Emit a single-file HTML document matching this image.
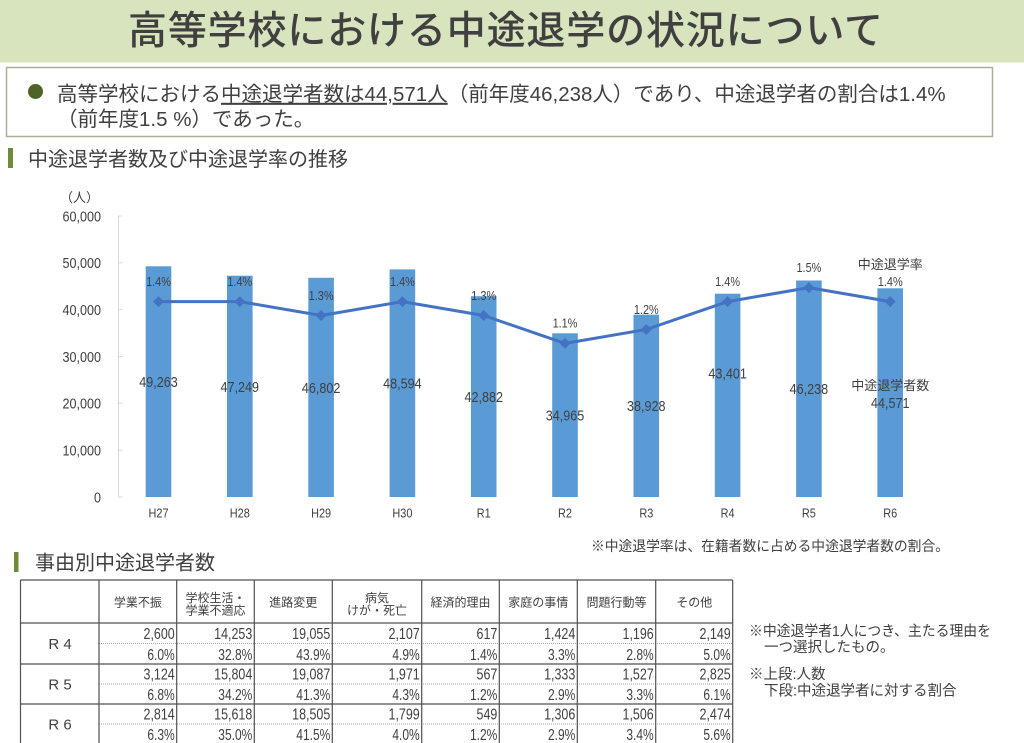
<!DOCTYPE html>
<html lang="ja">
<head>
<meta charset="utf-8">
<style>
html,body{margin:0;padding:0;background:#fff;}
body{width:1024px;height:743px;overflow:hidden;}
svg{display:block;}
.j{font-family:"Liberation Sans","Noto Sans CJK JP",sans-serif;fill:#404040;}
.n{font-family:"Liberation Sans","Noto Sans CJK JP",sans-serif;fill:#404040;}
</style>
</head>
<body>
<svg width="1024" height="743" viewBox="0 0 1024 743" xmlns="http://www.w3.org/2000/svg">
  <!-- Title banner -->
  <rect x="0" y="0" width="1024" height="62.5" fill="#d7e4bd"/>
  <text class="j" x="128" y="44" font-size="39" font-weight="500" textLength="755" lengthAdjust="spacing">高等学校における中途退学の状況について</text>

  <!-- Summary box -->
  <rect x="6.5" y="67.5" width="986" height="69" fill="#fff" stroke="#aab093" stroke-width="1.5"/>
  <circle cx="35.5" cy="91.5" r="7.5" fill="#4f6228"/>
  <text class="j" x="57" y="100.8" font-size="20.5">高等学校における<tspan style="text-decoration:underline">中途退学者数は44,571人</tspan>（前年度46,238人）であり、中途退学者の割合は1.4%</text>
  <text class="j" x="57" y="125.8" font-size="20.5">（前年度1.5 %）であった。</text>

  <!-- Heading 1 -->
  <rect x="8" y="148" width="5" height="20" fill="#6f8b3a"/>
  <text class="j" x="28" y="166" font-size="20">中途退学者数及び中途退学率の推移</text>

  <!-- Chart axis -->
  <text class="j" x="79.5" y="202" font-size="13" text-anchor="middle">（人）</text>
  <line x1="118.5" y1="216" x2="118.5" y2="497.5" stroke="#d9d9d9" stroke-width="1"/>
  <g stroke="#d9d9d9" stroke-width="1">
    <line x1="118.5" y1="497" x2="122.5" y2="497"/>
    <line x1="118.5" y1="450.2" x2="122.5" y2="450.2"/>
    <line x1="118.5" y1="403.3" x2="122.5" y2="403.3"/>
    <line x1="118.5" y1="356.5" x2="122.5" y2="356.5"/>
    <line x1="118.5" y1="309.7" x2="122.5" y2="309.7"/>
    <line x1="118.5" y1="262.8" x2="122.5" y2="262.8"/>
    <line x1="118.5" y1="216" x2="122.5" y2="216"/>
  </g>
  <g class="n" font-size="15" text-anchor="end">
    <text transform="translate(101,502.4) scale(0.84,1)">0</text>
    <text transform="translate(101,455.6) scale(0.84,1)">10,000</text>
    <text transform="translate(101,408.7) scale(0.84,1)">20,000</text>
    <text transform="translate(101,361.9) scale(0.84,1)">30,000</text>
    <text transform="translate(101,315.1) scale(0.84,1)">40,000</text>
    <text transform="translate(101,268.2) scale(0.84,1)">50,000</text>
    <text transform="translate(101,221.4) scale(0.84,1)">60,000</text>
  </g>

  <!-- Bars -->
  <g fill="#5b9bd5">
    <rect x="145.7" y="266.3" width="25.6" height="230.7"/>
    <rect x="227.0" y="275.7" width="25.6" height="221.3"/>
    <rect x="308.3" y="277.8" width="25.6" height="219.2"/>
    <rect x="389.6" y="269.4" width="25.6" height="227.6"/>
    <rect x="470.9" y="296.2" width="25.6" height="200.8"/>
    <rect x="552.2" y="333.3" width="25.6" height="163.7"/>
    <rect x="633.5" y="314.7" width="25.6" height="182.3"/>
    <rect x="714.8" y="293.7" width="25.6" height="203.3"/>
    <rect x="796.1" y="280.5" width="25.6" height="216.5"/>
    <rect x="877.4" y="288.3" width="25.6" height="208.7"/>
  </g>

  <!-- Bar value labels -->
  <g class="n" font-size="15" text-anchor="middle">
    <text transform="translate(158.5,387.0) scale(0.84,1)">49,263</text>
    <text transform="translate(239.8,391.8) scale(0.84,1)">47,249</text>
    <text transform="translate(321.1,392.8) scale(0.84,1)">46,802</text>
    <text transform="translate(402.4,388.6) scale(0.84,1)">48,594</text>
    <text transform="translate(483.7,402.0) scale(0.84,1)">42,882</text>
    <text transform="translate(565.0,420.5) scale(0.84,1)">34,965</text>
    <text transform="translate(646.3,411.2) scale(0.84,1)">38,928</text>
    <text transform="translate(727.6,378.7) scale(0.84,1)">43,401</text>
    <text transform="translate(808.9,394.1) scale(0.84,1)">46,238</text>
    <text transform="translate(890.2,408.1) scale(0.84,1)">44,571</text>
  </g>
  <text class="j" x="890.2" y="390" font-size="13" text-anchor="middle">中途退学者数</text>

  <!-- Rate line -->
  <polyline fill="none" stroke="#4472c4" stroke-width="3" stroke-linejoin="round"
    points="158.5,301.6 239.8,301.6 321.1,315.5 402.4,301.6 483.7,315.5 565.0,343.4 646.3,329.5 727.6,301.6 808.9,287.6 890.2,301.6"/>
  <g fill="#4472c4">
    <polygon points="158.5,296.1 164,301.6 158.5,307.1 153,301.6"/>
    <polygon points="239.8,296.1 245.3,301.6 239.8,307.1 234.3,301.6"/>
    <polygon points="321.1,310 326.6,315.5 321.1,321 315.6,315.5"/>
    <polygon points="402.4,296.1 407.9,301.6 402.4,307.1 396.9,301.6"/>
    <polygon points="483.7,310 489.2,315.5 483.7,321 478.2,315.5"/>
    <polygon points="565.0,337.9 570.5,343.4 565.0,348.9 559.5,343.4"/>
    <polygon points="646.3,324 651.8,329.5 646.3,335 640.8,329.5"/>
    <polygon points="727.6,296.1 733.1,301.6 727.6,307.1 722.1,301.6"/>
    <polygon points="808.9,282.1 814.4,287.6 808.9,293.1 803.4,287.6"/>
    <polygon points="890.2,296.1 895.7,301.6 890.2,307.1 884.7,301.6"/>
  </g>

  <!-- Rate labels -->
  <g class="n" font-size="13" text-anchor="middle">
    <text transform="translate(158.5,285.9) scale(0.84,1)">1.4%</text>
    <text transform="translate(239.8,285.9) scale(0.84,1)">1.4%</text>
    <text transform="translate(321.1,299.8) scale(0.84,1)">1.3%</text>
    <text transform="translate(402.4,285.9) scale(0.84,1)">1.4%</text>
    <text transform="translate(483.7,299.8) scale(0.84,1)">1.3%</text>
    <text transform="translate(565.0,327.7) scale(0.84,1)">1.1%</text>
    <text transform="translate(646.3,313.8) scale(0.84,1)">1.2%</text>
    <text transform="translate(727.6,285.9) scale(0.84,1)">1.4%</text>
    <text transform="translate(808.9,271.9) scale(0.84,1)">1.5%</text>
    <text transform="translate(890.2,285.9) scale(0.84,1)">1.4%</text>
  </g>
  <text class="j" x="890.2" y="269" font-size="13" text-anchor="middle">中途退学率</text>

  <!-- X labels -->
  <g class="n" font-size="13" text-anchor="middle">
    <text transform="translate(158.5,517.4) scale(0.84,1)">H27</text>
    <text transform="translate(239.8,517.4) scale(0.84,1)">H28</text>
    <text transform="translate(321.1,517.4) scale(0.84,1)">H29</text>
    <text transform="translate(402.4,517.4) scale(0.84,1)">H30</text>
    <text transform="translate(483.7,517.4) scale(0.84,1)">R1</text>
    <text transform="translate(565.0,517.4) scale(0.84,1)">R2</text>
    <text transform="translate(646.3,517.4) scale(0.84,1)">R3</text>
    <text transform="translate(727.6,517.4) scale(0.84,1)">R4</text>
    <text transform="translate(808.9,517.4) scale(0.84,1)">R5</text>
    <text transform="translate(890.2,517.4) scale(0.84,1)">R6</text>
  </g>

  <!-- Note under chart -->
  <text class="j" x="591" y="550.8" font-size="14.4" textLength="358" lengthAdjust="spacingAndGlyphs">※中途退学率は、在籍者数に占める中途退学者数の割合。</text>

  <!-- Heading 2 -->
  <rect x="14" y="552" width="4.5" height="20" fill="#6f8b3a"/>
  <text class="j" x="35" y="569.6" font-size="20">事由別中途退学者数</text>

  <!-- Table -->
  <g stroke="#a6a6a6" stroke-width="1" stroke-dasharray="1,1">
    <line x1="99" y1="643.5" x2="732.7" y2="643.5"/>
    <line x1="99" y1="684" x2="732.7" y2="684"/>
    <line x1="99" y1="724" x2="732.7" y2="724"/>
  </g>
  <g stroke="#505050" stroke-width="1.2" fill="none">
    <line x1="20.5" y1="580" x2="732.7" y2="580"/>
    <line x1="20.5" y1="623" x2="732.7" y2="623"/>
    <line x1="20.5" y1="664" x2="732.7" y2="664"/>
    <line x1="20.5" y1="704" x2="732.7" y2="704"/>
    <line x1="20.5" y1="580" x2="20.5" y2="743"/>
    <line x1="99" y1="580" x2="99" y2="743"/>
    <line x1="176.7" y1="580" x2="176.7" y2="743"/>
    <line x1="254.3" y1="580" x2="254.3" y2="743"/>
    <line x1="332.3" y1="580" x2="332.3" y2="743"/>
    <line x1="421.7" y1="580" x2="421.7" y2="743"/>
    <line x1="499.3" y1="580" x2="499.3" y2="743"/>
    <line x1="577.3" y1="580" x2="577.3" y2="743"/>
    <line x1="655.7" y1="580" x2="655.7" y2="743"/>
    <line x1="732.7" y1="580" x2="732.7" y2="743"/>
  </g>

  <!-- Table header -->
  <g class="j" font-size="12" text-anchor="middle">
    <text x="137.9" y="606.6">学業不振</text>
    <text x="215.5" y="602.1">学校生活・</text>
    <text x="215.5" y="614.6">学業不適応</text>
    <text x="293.3" y="606.6">進路変更</text>
    <text x="377" y="602.1">病気</text>
    <text x="377" y="614.6">けが・死亡</text>
    <text x="460.5" y="606.6">経済的理由</text>
    <text x="538.3" y="606.6">家庭の事情</text>
    <text x="616.5" y="606.6">問題行動等</text>
    <text x="694.2" y="606.6">その他</text>
  </g>

  <!-- Row labels -->
  <g class="n" font-size="15" text-anchor="middle">
    <text x="60" y="649" xml:space="preserve">R 4</text>
    <text x="60" y="689.5" xml:space="preserve">R 5</text>
    <text x="60" y="729.5" xml:space="preserve">R 6</text>
  </g>

  <!-- Table data -->
  <g class="n" font-size="16" text-anchor="end">
    <text transform="translate(174.7,639.2) scale(0.78,1)">2,600</text>
    <text transform="translate(252.3,639.2) scale(0.78,1)">14,253</text>
    <text transform="translate(330.3,639.2) scale(0.78,1)">19,055</text>
    <text transform="translate(419.7,639.2) scale(0.78,1)">2,107</text>
    <text transform="translate(497.3,639.2) scale(0.78,1)">617</text>
    <text transform="translate(575.3,639.2) scale(0.78,1)">1,424</text>
    <text transform="translate(653.7,639.2) scale(0.78,1)">1,196</text>
    <text transform="translate(730.7,639.2) scale(0.78,1)">2,149</text>
    <text transform="translate(174.7,660.2) scale(0.75,1)">6.0%</text>
    <text transform="translate(252.3,660.2) scale(0.75,1)">32.8%</text>
    <text transform="translate(330.3,660.2) scale(0.75,1)">43.9%</text>
    <text transform="translate(419.7,660.2) scale(0.75,1)">4.9%</text>
    <text transform="translate(497.3,660.2) scale(0.75,1)">1.4%</text>
    <text transform="translate(575.3,660.2) scale(0.75,1)">3.3%</text>
    <text transform="translate(653.7,660.2) scale(0.75,1)">2.8%</text>
    <text transform="translate(730.7,660.2) scale(0.75,1)">5.0%</text>
    <text transform="translate(174.7,679.7) scale(0.78,1)">3,124</text>
    <text transform="translate(252.3,679.7) scale(0.78,1)">15,804</text>
    <text transform="translate(330.3,679.7) scale(0.78,1)">19,087</text>
    <text transform="translate(419.7,679.7) scale(0.78,1)">1,971</text>
    <text transform="translate(497.3,679.7) scale(0.78,1)">567</text>
    <text transform="translate(575.3,679.7) scale(0.78,1)">1,333</text>
    <text transform="translate(653.7,679.7) scale(0.78,1)">1,527</text>
    <text transform="translate(730.7,679.7) scale(0.78,1)">2,825</text>
    <text transform="translate(174.7,700.2) scale(0.75,1)">6.8%</text>
    <text transform="translate(252.3,700.2) scale(0.75,1)">34.2%</text>
    <text transform="translate(330.3,700.2) scale(0.75,1)">41.3%</text>
    <text transform="translate(419.7,700.2) scale(0.75,1)">4.3%</text>
    <text transform="translate(497.3,700.2) scale(0.75,1)">1.2%</text>
    <text transform="translate(575.3,700.2) scale(0.75,1)">2.9%</text>
    <text transform="translate(653.7,700.2) scale(0.75,1)">3.3%</text>
    <text transform="translate(730.7,700.2) scale(0.75,1)">6.1%</text>
    <text transform="translate(174.7,719.7) scale(0.78,1)">2,814</text>
    <text transform="translate(252.3,719.7) scale(0.78,1)">15,618</text>
    <text transform="translate(330.3,719.7) scale(0.78,1)">18,505</text>
    <text transform="translate(419.7,719.7) scale(0.78,1)">1,799</text>
    <text transform="translate(497.3,719.7) scale(0.78,1)">549</text>
    <text transform="translate(575.3,719.7) scale(0.78,1)">1,306</text>
    <text transform="translate(653.7,719.7) scale(0.78,1)">1,506</text>
    <text transform="translate(730.7,719.7) scale(0.78,1)">2,474</text>
    <text transform="translate(174.7,740.2) scale(0.75,1)">6.3%</text>
    <text transform="translate(252.3,740.2) scale(0.75,1)">35.0%</text>
    <text transform="translate(330.3,740.2) scale(0.75,1)">41.5%</text>
    <text transform="translate(419.7,740.2) scale(0.75,1)">4.0%</text>
    <text transform="translate(497.3,740.2) scale(0.75,1)">1.2%</text>
    <text transform="translate(575.3,740.2) scale(0.75,1)">2.9%</text>
    <text transform="translate(653.7,740.2) scale(0.75,1)">3.4%</text>
    <text transform="translate(730.7,740.2) scale(0.75,1)">5.6%</text>
  </g>

  <!-- Right notes -->
  <g class="j" font-size="14.5">
    <text x="749" y="635.8" textLength="242" lengthAdjust="spacingAndGlyphs">※中途退学者1人につき、主たる理由を</text>
    <text x="764" y="652.2">一つ選択したもの。</text>
    <text x="749" y="678.8">※上段:人数</text>
    <text x="764" y="695.5">下段:中途退学者に対する割合</text>
  </g>
</svg>
</body>
</html>
